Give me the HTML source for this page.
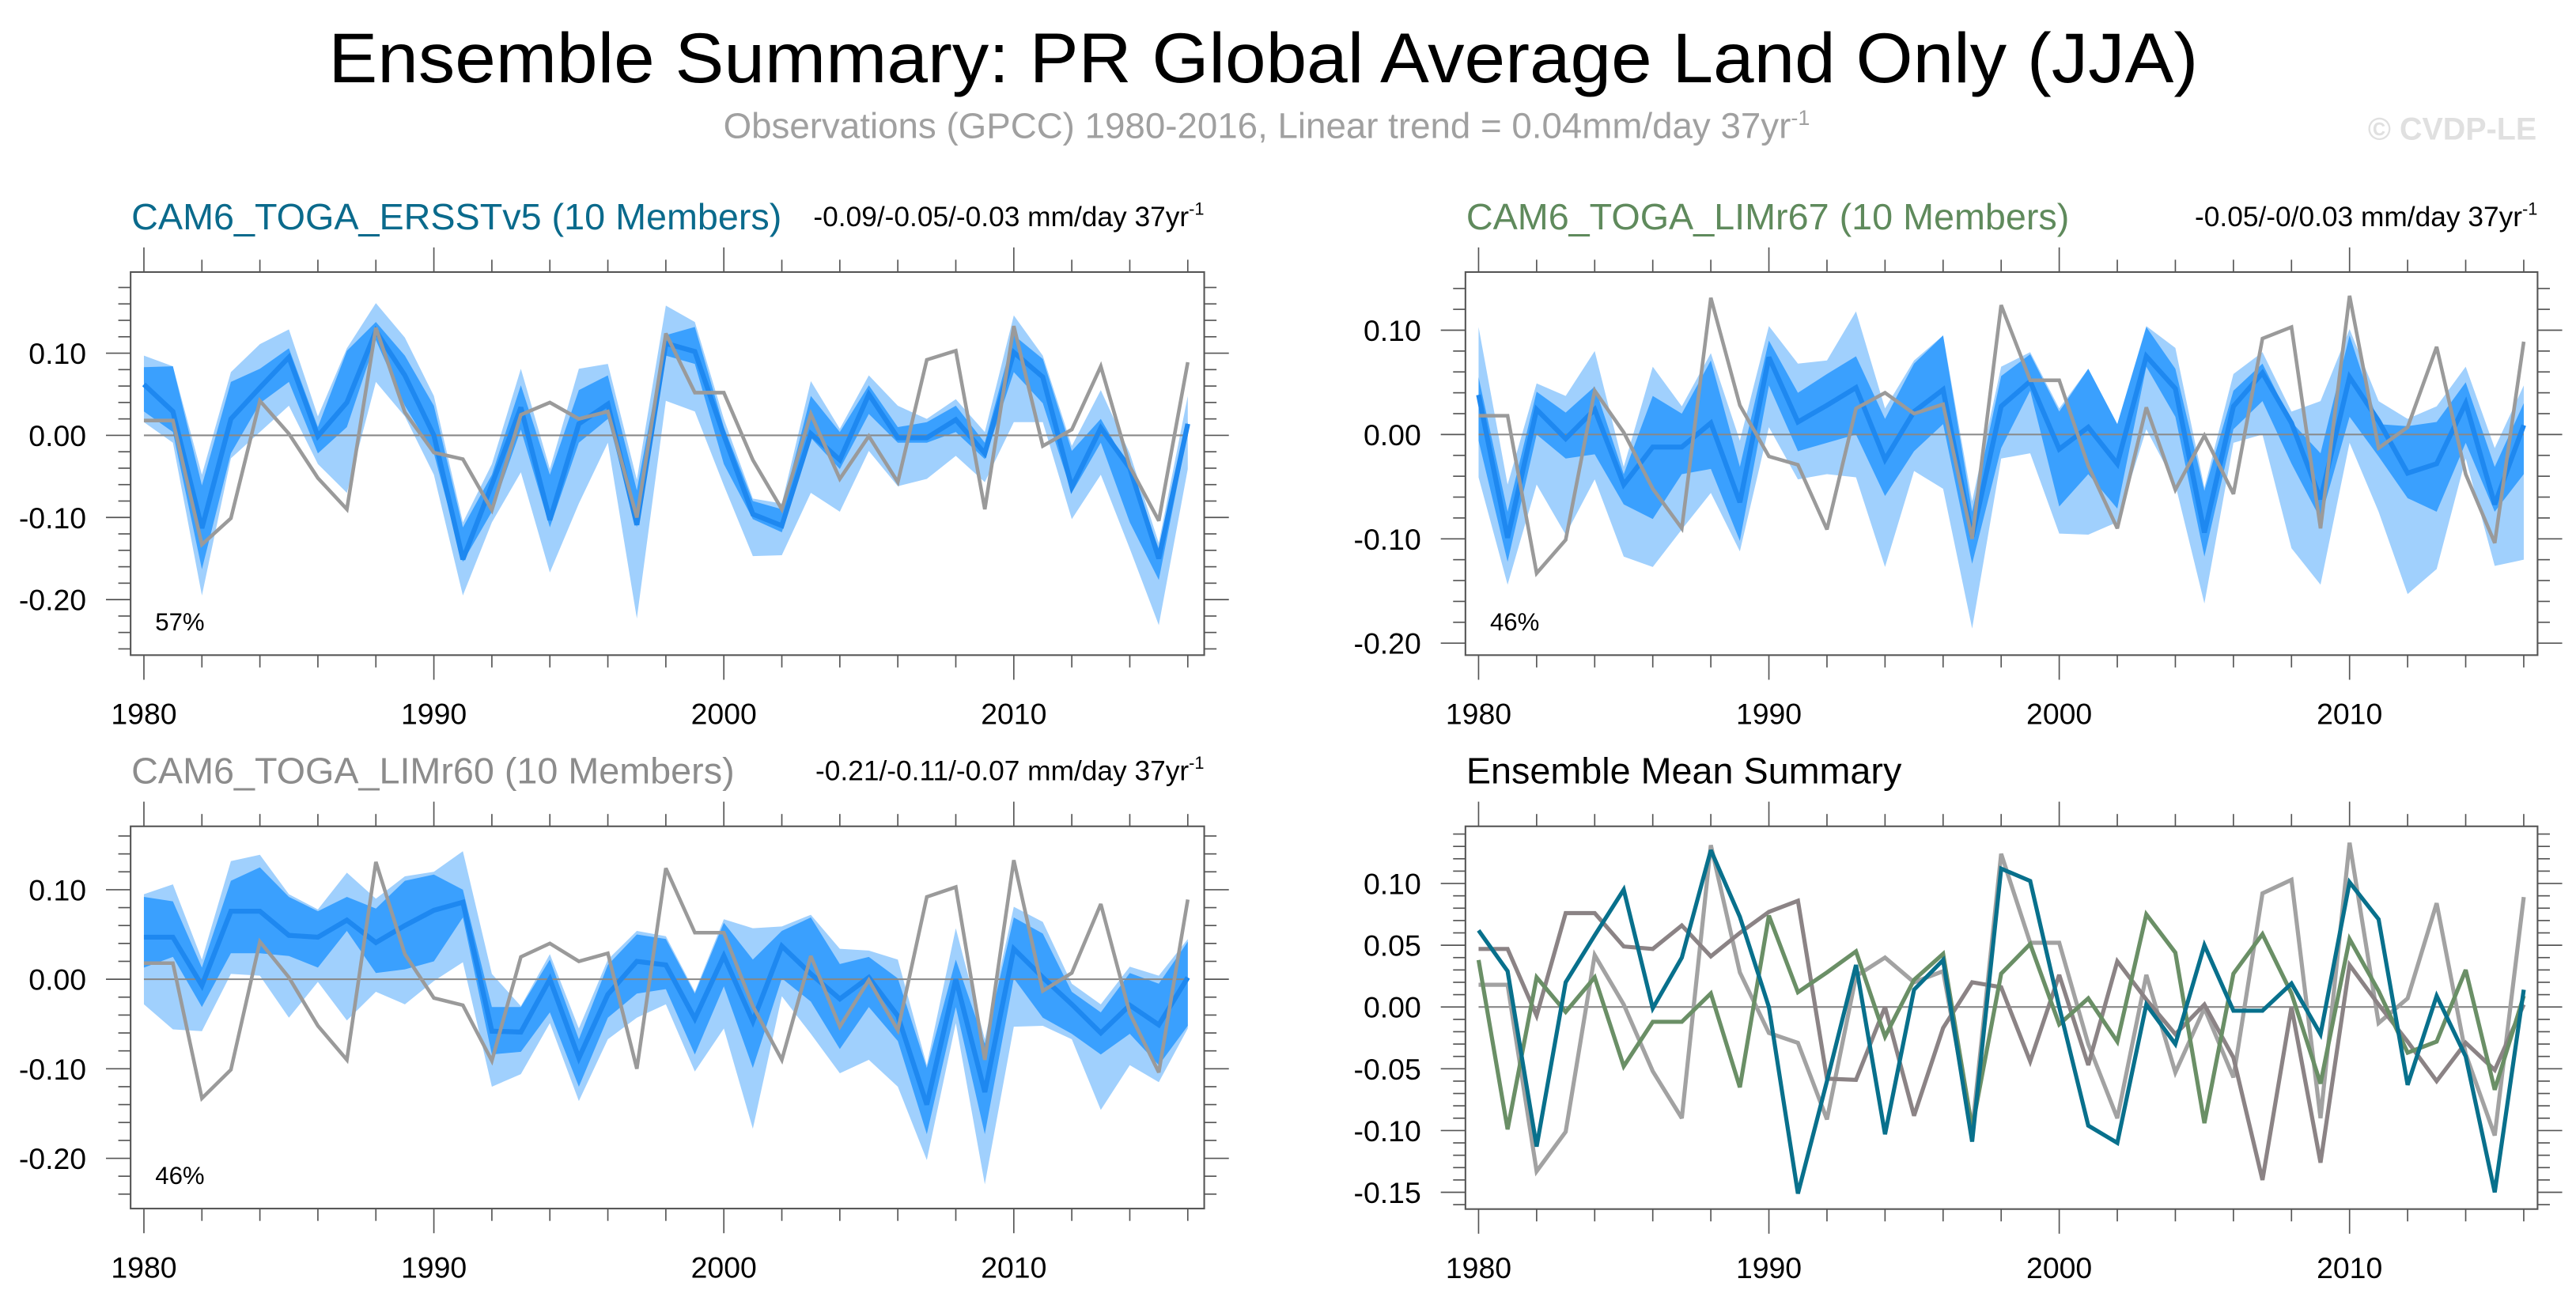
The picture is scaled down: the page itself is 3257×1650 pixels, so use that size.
<!DOCTYPE html>
<html><head><meta charset="utf-8"><style>
html,body{margin:0;padding:0;background:#fff;}
svg{display:block;font-family:"Liberation Sans",Arial,sans-serif;}
</style></head><body>
<svg id="chart" width="3257" height="1650" viewBox="0 0 1568 794.4" preserveAspectRatio="none" xmlns="http://www.w3.org/2000/svg">
<rect x="0" y="0" width="1568" height="794.4" fill="#fff"/>
<text x="769" y="50" font-size="43" text-anchor="middle" textLength="1138" lengthAdjust="spacingAndGlyphs">Ensemble Summary: PR Global Average Land Only (JJA)</text>
<text x="771" y="84" font-size="22" fill="#a0a0a0" text-anchor="middle">Observations (GPCC) 1980-2016, Linear trend = 0.04mm/day 37yr<tspan dy="-8" font-size="13">-1</tspan></text>
<text x="1544" y="85" font-size="19" font-weight="bold" fill="#e0e0e0" text-anchor="end">© CVDP-LE</text>
<g id="panels"></g>
</svg>
<script>
const years = [];
for (let y = 1980; y <= 2016; y++) years.push(y);
const obs = [0.018,0.018,-0.133,-0.101,0.042,0.002,-0.052,-0.090,0.131,0.028,-0.021,-0.029,-0.091,0.025,0.040,0.020,0.029,-0.100,0.124,0.052,0.052,-0.030,-0.090,0.026,-0.053,-0.001,-0.057,0.092,0.103,-0.090,0.133,-0.013,0.007,0.084,-0.038,-0.104,0.089];
const meanErsst = [0.062,0.029,-0.113,0.020,0.058,0.095,-0.001,0.040,0.127,0.073,0.000,-0.151,-0.060,0.034,-0.103,0.014,0.038,-0.109,0.112,0.102,0.000,-0.096,-0.110,0.002,-0.030,0.050,-0.003,-0.003,0.019,-0.022,0.101,0.071,-0.063,0.009,-0.040,-0.150,0.014];
const meanLim67 = [0.038,-0.099,0.024,-0.004,0.024,-0.048,-0.012,-0.012,0.011,-0.065,0.074,0.012,0.028,0.045,-0.024,0.022,0.043,-0.098,0.027,0.051,-0.014,0.007,-0.028,0.075,0.044,-0.094,0.027,0.059,0.011,-0.062,0.055,0.013,-0.037,-0.028,0.030,-0.067,0.009];
const meanLim60 = [0.047,0.047,-0.007,0.076,0.076,0.049,0.047,0.066,0.041,0.060,0.077,0.086,-0.058,-0.059,0.000,-0.088,-0.017,0.020,0.016,-0.044,0.026,-0.047,0.037,0.006,-0.022,0.002,-0.041,-0.140,0.000,-0.126,0.034,0.002,-0.028,-0.060,-0.029,-0.051,0.002];

const p1OuterHi = [0.097,0.084,-0.048,0.077,0.111,0.129,0.023,0.106,0.161,0.119,0.048,-0.106,-0.035,0.081,-0.041,0.081,0.087,-0.054,0.158,0.138,0.020,-0.077,-0.083,0.066,0.008,0.073,0.036,0.020,0.044,0.004,0.146,0.097,-0.013,0.055,-0.022,-0.131,0.048];
const p1InnerHi = [0.083,0.084,-0.061,0.065,0.081,0.106,0.010,0.103,0.138,0.097,0.036,-0.112,-0.048,0.061,-0.048,0.055,0.073,-0.067,0.122,0.132,0.010,-0.080,-0.090,0.048,0.004,0.061,0.010,0.016,0.036,-0.009,0.122,0.093,-0.019,0.020,-0.041,-0.138,0.016];
const p1InnerLo = [0.029,0.004,-0.163,-0.022,0.039,0.065,-0.022,0.010,0.116,0.036,-0.022,-0.154,-0.093,0.007,-0.112,-0.009,0.020,-0.112,0.097,0.087,-0.035,-0.102,-0.118,-0.003,-0.041,0.026,-0.009,-0.009,0.004,-0.029,0.077,0.039,-0.070,-0.009,-0.106,-0.176,0.004];
const p1OuterLo = [0.016,-0.009,-0.195,-0.028,0.004,0.036,-0.035,-0.070,0.065,0.023,-0.048,-0.195,-0.106,-0.045,-0.167,-0.083,-0.009,-0.223,0.042,0.029,-0.061,-0.147,-0.146,-0.070,-0.093,-0.019,-0.062,-0.053,-0.025,-0.057,0.016,0.016,-0.102,-0.048,-0.138,-0.231,-0.041];

const p2OuterHi = [0.103,-0.048,0.049,0.037,0.080,-0.031,0.065,0.027,0.078,-0.006,0.104,0.068,0.071,0.118,0.025,0.071,0.095,-0.064,0.065,0.079,0.025,0.063,0.010,0.104,0.083,-0.051,0.058,0.079,0.022,0.032,0.101,0.032,0.015,0.027,0.065,-0.013,0.047];
const p2InnerHi = [0.055,-0.074,0.041,0.021,0.046,-0.038,0.037,0.020,0.071,-0.031,0.090,0.040,0.058,0.075,0.015,0.068,0.095,-0.074,0.056,0.077,0.022,0.063,0.010,0.103,0.063,-0.054,0.042,0.068,0.012,-0.018,0.095,0.010,0.008,0.012,0.050,-0.031,0.030];
const p2InnerLo = [-0.006,-0.122,0.000,-0.023,-0.019,-0.067,-0.081,-0.038,-0.033,-0.102,0.047,-0.016,-0.008,0.000,-0.059,-0.016,0.010,-0.124,-0.013,0.042,-0.069,-0.038,-0.071,0.065,0.017,-0.117,0.005,0.032,-0.028,-0.081,0.017,-0.021,-0.061,-0.074,-0.008,-0.074,-0.038];
const p2OuterLo = [-0.041,-0.144,-0.048,-0.096,-0.043,-0.117,-0.127,-0.091,-0.056,-0.112,0.007,-0.043,-0.038,-0.041,-0.127,-0.035,-0.052,-0.186,-0.023,-0.018,-0.095,-0.096,-0.084,0.005,-0.048,-0.162,-0.008,0.000,-0.109,-0.144,-0.008,-0.074,-0.153,-0.129,-0.023,-0.126,-0.120];

const p3OuterHi = [0.095,0.106,0.022,0.132,0.139,0.095,0.078,0.119,0.090,0.115,0.120,0.143,0.006,-0.030,0.028,-0.055,0.022,0.054,0.048,-0.014,0.067,0.057,0.059,0.072,0.034,0.032,0.022,-0.096,0.057,-0.067,0.081,0.064,-0.005,-0.028,0.014,0.004,0.045];
const p3InnerHi = [0.092,0.087,0.013,0.110,0.125,0.092,0.076,0.092,0.079,0.110,0.117,0.100,-0.031,-0.031,0.022,-0.067,0.016,0.050,0.045,-0.016,0.063,0.022,0.054,0.069,0.017,0.025,0.001,-0.099,0.022,-0.072,0.069,0.051,-0.014,-0.037,0.007,-0.005,0.042];
const p3InnerLo = [0.013,0.025,-0.031,0.029,0.029,0.026,0.013,0.054,0.007,0.011,0.020,0.069,-0.084,-0.081,-0.037,-0.120,-0.043,-0.016,-0.011,-0.084,-0.008,-0.099,0.001,-0.025,-0.078,-0.031,-0.069,-0.173,-0.031,-0.173,0.001,-0.043,-0.061,-0.084,-0.061,-0.096,-0.052];
const p3OuterLo = [-0.028,-0.056,-0.058,0.006,0.004,-0.043,-0.003,-0.046,-0.014,-0.028,-0.002,0.019,-0.120,-0.106,-0.049,-0.136,-0.067,-0.043,-0.028,-0.103,-0.055,-0.167,-0.019,-0.061,-0.105,-0.090,-0.120,-0.202,-0.049,-0.229,-0.053,-0.052,-0.067,-0.146,-0.096,-0.115,-0.055];

const yTicksBand = [0.10, 0.00, -0.10, -0.20];
const yTickLabelsBand = ["0.10", "0.00", "-0.10", "-0.20"];
const yTicksMean = [0.10, 0.05, 0.00, -0.05, -0.10, -0.15];
const yTickLabelsMean = ["0.10", "0.05", "0.00", "-0.05", "-0.10", "-0.15"];
const xTicks = [1980, 1990, 2000, 2010];
const xTickLabels = ["1980", "1990", "2000", "2010"];

const NS = "http://www.w3.org/2000/svg";
const root = document.getElementById("panels");
function mk(tag, attrs, parent) {
  const e = document.createElementNS(NS, tag);
  for (const k in attrs) e.setAttribute(k, attrs[k]);
  (parent || root).appendChild(e);
  return e;
}

function panel(cfg) {
  const g = mk("g", {});
  
  
  const xs = v => cfg.x0 + (v - 1980) * (cfg.x1 - cfg.x0) / 36;
  const ys = v => cfg.yZero - v * cfg.yPer;
  const fr = mk("rect", {x: cfg.L, y: cfg.T, width: cfg.R - cfg.L, height: cfg.B - cfg.T, fill: "none", stroke: "#555", "stroke-width": 1}, g);
  
  
  function band(hi, lo, color, nm) {
    let d = "";
    hi.forEach((v, i) => { d += (i ? "L" : "M") + xs(years[i]).toFixed(2) + "," + ys(v).toFixed(2); });
    for (let i = lo.length - 1; i >= 0; i--) d += "L" + xs(years[i]).toFixed(2) + "," + ys(lo[i]).toFixed(2);
    const p = mk("path", {d: d + "Z", fill: color, stroke: "none"}, g);
    
    
  }
  function line(vals, color, w, nm) {
    const pts = vals.map((v, i) => xs(years[i]).toFixed(2) + "," + ys(v).toFixed(2)).join(" ");
    const p = mk("polyline", {points: pts, fill: "none", stroke: color, "stroke-width": w, "stroke-linejoin": "miter", "stroke-miterlimit": 3}, g);
    
    
  }
  if (cfg.outerHi) {
    band(cfg.outerHi, cfg.outerLo, "#a0d0fd", "outer-spread-band");
    band(cfg.innerHi, cfg.innerLo, "#3aa0fe", "inner-spread-band");
  }
  const zl = mk("line", {x1: xs(1980), x2: xs(2016), y1: ys(0), y2: ys(0), stroke: "#888", "stroke-width": 1}, g);
  
  
  if (cfg.outerHi) {
    line(cfg.mean, "#1e88f0", 3, "ensemble-mean-line");
    line(obs, "#9a9a9a", 2.2, "observations-line");
  } else {
    line(obs, "#a2a2a2", 2.5, "observations-line");
    line(meanLim60, "#8b8385", 2.5, "lim-r60-mean-line");
    line(meanLim67, "#6a8f66", 2.5, "lim-r67-mean-line");
    line(meanErsst, "#08708c", 2.5, "ersst-mean-line");
  }
  const tg = mk("g", {stroke: "#555", "stroke-width": 0.8}, g);
  
  
  const step = cfg.minorStep;
  const vTop = (cfg.yZero - cfg.T) / cfg.yPer, vBot = (cfg.yZero - cfg.B) / cfg.yPer;
  for (let k = Math.ceil(vBot / step - 1e-6); k * step <= vTop + 1e-6; k++) {
    const yy = ys(k * step);
    const major = cfg.yTicks.some(t => Math.abs(t - k * step) < 1e-6);
    const len = major ? 15 : 7.5;
    mk("line", {x1: cfg.L - len, x2: cfg.L, y1: yy, y2: yy}, tg);
    mk("line", {x1: cfg.R, x2: cfg.R + len, y1: yy, y2: yy}, tg);
  }
  cfg.yTicks.forEach((t, i) => {
    const tx = mk("text", {x: cfg.L - 27, y: ys(t) + 6.5, "font-size": 18, "text-anchor": "end", fill: "#000"}, g);
    tx.textContent = cfg.yLabels[i];
    
    
  });
  const xg = mk("g", {stroke: "#555", "stroke-width": 0.8}, g);
  
  
  for (let yr = 1980; yr <= 2016; yr += 2) {
    const major = yr % 10 === 0;
    const len = major ? 15 : 7.5;
    const xx = xs(yr);
    mk("line", {x1: xx, x2: xx, y1: cfg.B, y2: cfg.B + len}, xg);
    mk("line", {x1: xx, x2: xx, y1: cfg.T - len, y2: cfg.T}, xg);
  }
  xTicks.forEach((t, i) => {
    const tx = mk("text", {x: xs(t), y: cfg.B + 42, "font-size": 18, "text-anchor": "middle", fill: "#000"}, g);
    tx.textContent = xTickLabels[i];
    
    
  });
  const tt = mk("text", {x: cfg.L + 0.5, y: cfg.T - 26, "font-size": 22.5, fill: cfg.titleColor}, g);
  tt.textContent = cfg.title;
  
  
  if (cfg.trend) {
    const tr = mk("text", {x: cfg.R, y: cfg.T - 28, "font-size": 17, "text-anchor": "end", fill: "#000"}, g);
    
    
    tr.appendChild(document.createTextNode(cfg.trend));
    const sup = mk("tspan", {dy: -7, "font-size": 10.5}, tr);
    sup.textContent = "-1";
  }
  if (cfg.pct) {
    const pc = mk("text", {x: cfg.L + 15, y: cfg.B - 15, "font-size": 15, fill: "#000"}, g);
    pc.textContent = cfg.pct;
    
    
  }
}

panel({name: "panel-ersstv5", L: 79.5, R: 733, T: 165.6, B: 398.8, x0: 87.6, x1: 723, yZero: 265, yPer: 500, minorStep: 0.02,
  yTicks: yTicksBand, yLabels: yTickLabelsBand, outerHi: p1OuterHi, innerHi: p1InnerHi, innerLo: p1InnerLo, outerLo: p1OuterLo, mean: meanErsst,
  title: "CAM6_TOGA_ERSSTv5 (10 Members)", titleColor: "#0a6a8c", trend: "-0.09/-0.05/-0.03 mm/day 37yr", pct: "57%"});
panel({name: "panel-limr67", L: 892, R: 1544.6, T: 165.6, B: 398.8, x0: 900, x1: 1536.2, yZero: 264.5, yPer: 635, minorStep: 0.02,
  yTicks: yTicksBand, yLabels: yTickLabelsBand, outerHi: p2OuterHi, innerHi: p2InnerHi, innerLo: p2InnerLo, outerLo: p2OuterLo, mean: meanLim67,
  title: "CAM6_TOGA_LIMr67 (10 Members)", titleColor: "#5f8a5c", trend: "-0.05/-0/0.03 mm/day 37yr", pct: "46%"});
panel({name: "panel-limr60", L: 79.5, R: 733, T: 503, B: 735.7, x0: 87.6, x1: 723, yZero: 596.1, yPer: 545, minorStep: 0.02,
  yTicks: yTicksBand, yLabels: yTickLabelsBand, outerHi: p3OuterHi, innerHi: p3InnerHi, innerLo: p3InnerLo, outerLo: p3OuterLo, mean: meanLim60,
  title: "CAM6_TOGA_LIMr60 (10 Members)", titleColor: "#8c8c8c", trend: "-0.21/-0.11/-0.07 mm/day 37yr", pct: "46%"});
panel({name: "panel-ensemble-mean-summary", L: 892, R: 1544.6, T: 503, B: 736, x0: 900, x1: 1536.2, yZero: 613, yPer: 752, minorStep: 0.01,
  yTicks: yTicksMean, yLabels: yTickLabelsMean,
  title: "Ensemble Mean Summary", titleColor: "#000"});
</script>
</body></html>
